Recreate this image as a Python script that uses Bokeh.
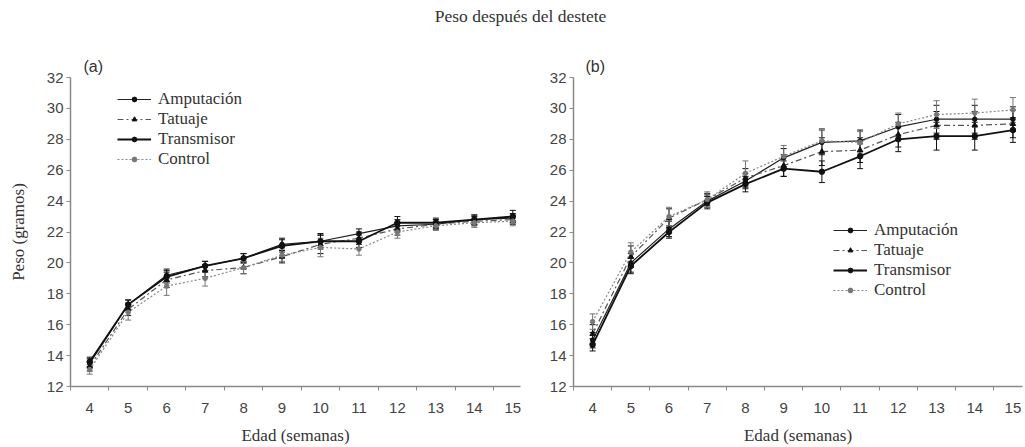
from bokeh.plotting import figure
from bokeh.models import (FixedTicker, Label, Legend, LegendItem, Whisker, TeeHead,
                          ColumnDataSource, Range1d)
from bokeh.layouts import column, row
from bokeh.embed import file_html
from bokeh.resources import INLINE

# ---- data ----
weeks = [4, 5, 6, 7, 8, 9, 10, 11, 12, 13, 14, 15]
series_names = ["Amputación", "Tatuaje", "Transmisor", "Control"]

a_amput = [13.5, 17.3, 19.2, 19.8, 20.3, 21.2, 21.4, 21.9, 22.4, 22.5, 22.8, 22.9]
a_tat = [13.3, 17.0, 18.9, 19.5, 19.7, 20.4, 21.2, 21.6, 22.2, 22.5, 22.7, 22.8]
a_trans = [13.6, 17.3, 19.1, 19.8, 20.3, 21.1, 21.4, 21.4, 22.6, 22.6, 22.8, 23.0]
a_ctrl = [13.1, 16.8, 18.5, 19.0, 19.7, 20.5, 21.0, 20.9, 22.0, 22.4, 22.6, 22.7]
a_err_amput = [0.3, 0.3, 0.4, 0.3, 0.3, 0.4, 0.4, 0.3, 0.4, 0.3, 0.3, 0.3]
a_err_tat = [0.3, 0.4, 0.5, 0.4, 0.4, 0.4, 0.6, 0.4, 0.4, 0.3, 0.3, 0.3]
a_err_trans = [0.3, 0.3, 0.4, 0.3, 0.3, 0.4, 0.5, 0.4, 0.4, 0.3, 0.3, 0.4]
a_err_ctrl = [0.3, 0.5, 0.6, 0.5, 0.4, 0.4, 0.6, 0.4, 0.4, 0.3, 0.3, 0.3]

b_amput = [15.0, 20.0, 22.2, 24.0, 25.3, 26.8, 27.8, 27.9, 28.8, 29.3, 29.3, 29.3]
b_tat = [15.4, 20.4, 22.9, 24.1, 25.5, 26.3, 27.2, 27.3, 28.3, 28.9, 28.9, 29.0]
b_trans = [14.7, 19.8, 22.0, 23.9, 25.1, 26.1, 25.9, 26.9, 28.0, 28.2, 28.2, 28.6]
b_ctrl = [16.2, 20.7, 23.0, 24.1, 25.8, 26.9, 27.9, 27.8, 29.0, 29.6, 29.7, 29.9]
b_err_amput = [0.5, 0.6, 0.5, 0.4, 0.5, 0.6, 0.8, 0.7, 0.8, 0.9, 0.9, 0.8]
b_err_tat = [0.6, 0.7, 0.6, 0.4, 0.6, 0.7, 0.9, 0.8, 0.8, 0.9, 0.9, 0.9]
b_err_trans = [0.4, 0.5, 0.4, 0.4, 0.5, 0.5, 0.7, 0.8, 0.8, 0.9, 0.9, 0.8]
b_err_ctrl = [0.5, 0.6, 0.6, 0.5, 0.8, 0.7, 0.8, 0.7, 0.7, 0.9, 0.9, 0.8]

y_ticks = [12, 14, 16, 18, 20, 22, 24, 26, 28, 30, 32]

title_text = "Peso después del destete"
y_label = "Peso (gramos)"
x_label = "Edad (semanas)"

# ---- styles ----
styles = [
    dict(line_color="#222222", line_width=1.2, line_dash="solid", marker="circle", size=4.5, mcolor="#111111"),
    dict(line_color="#555555", line_width=1.2, line_dash="6 3 2 3", marker="triangle", size=5.5, mcolor="#111111"),
    dict(line_color="#111111", line_width=1.8, line_dash="solid", marker="circle", size=5.5, mcolor="#111111"),
    dict(line_color="#888888", line_width=1.2, line_dash="2 2", marker="circle", size=4.5, mcolor="#777777"),
]

SERIF = "Liberation Serif"
SANS = "Liberation Sans"
AXIS_COLOR = "#8a8a8a"


def make_panel(width, min_left, min_right, xr_end, data, errs, tag, tag_offset, legend_loc, show_ylabel):
    p = figure(width=width, height=417, x_range=Range1d(3.5, xr_end), y_range=Range1d(12, 32),
               toolbar_location=None, output_backend="svg",
               min_border_left=min_left, min_border_right=min_right,
               min_border_top=47, min_border_bottom=61)
    p.outline_line_color = None
    p.xgrid.visible = False
    p.ygrid.visible = False
    p.background_fill_color = "white"
    p.border_fill_color = "white"

    p.title.text = tag
    p.title.align = "left"
    p.title.offset = tag_offset
    p.title.standoff = 6
    p.title.text_font = SANS
    p.title.text_font_size = "16px"
    p.title.text_font_style = "normal"
    p.title.text_color = "#333333"

    xa = p.xaxis[0]
    xa.ticker = FixedTicker(ticks=weeks, minor_ticks=[w - 0.5 for w in weeks] + [15.5])
    xa.major_tick_out = 0
    xa.major_tick_in = 0
    xa.minor_tick_out = 4
    xa.minor_tick_in = 0
    xa.minor_tick_line_color = AXIS_COLOR
    xa.axis_line_color = AXIS_COLOR
    xa.axis_line_width = 1.5
    xa.major_label_text_font = SANS
    xa.major_label_text_font_size = "15px"
    xa.major_label_text_color = "#444444"
    xa.major_label_standoff = 12
    xa.axis_label = x_label
    xa.axis_label_text_font = SERIF
    xa.axis_label_text_font_size = "17px"
    xa.axis_label_text_font_style = "normal"
    xa.axis_label_text_color = "#333333"
    xa.axis_label_standoff = 10

    ya = p.yaxis[0]
    ya.ticker = FixedTicker(ticks=y_ticks)
    ya.major_tick_out = 4
    ya.major_tick_in = 0
    ya.minor_tick_out = 0
    ya.minor_tick_in = 0
    ya.major_tick_line_color = AXIS_COLOR
    ya.axis_line_color = AXIS_COLOR
    ya.axis_line_width = 1.5
    ya.major_label_text_font = SANS
    ya.major_label_text_font_size = "15px"
    ya.major_label_text_color = "#444444"
    ya.major_label_standoff = 3
    if show_ylabel:
        ya.axis_label = y_label
        ya.axis_label_text_font = SERIF
        ya.axis_label_text_font_size = "17px"
        ya.axis_label_text_font_style = "normal"
        ya.axis_label_text_color = "#333333"
        ya.axis_label_standoff = 16

    items = []
    for name, vals, err, st in zip(series_names, data, errs, styles):
        src = ColumnDataSource(dict(x=weeks, y=vals,
                                    u=[v + e for v, e in zip(vals, err)],
                                    l=[v - e for v, e in zip(vals, err)]))
        wk = Whisker(base="x", upper="u", lower="l", source=src,
                     line_color=st["mcolor"], line_width=1,
                     upper_head=TeeHead(size=6, line_color=st["mcolor"], line_width=1),
                     lower_head=TeeHead(size=6, line_color=st["mcolor"], line_width=1))
        p.add_layout(wk)
        lr = p.line("x", "y", source=src, line_color=st["line_color"], line_width=st["line_width"],
                    line_dash=st["line_dash"])
        mr = p.scatter("x", "y", source=src, marker=st["marker"], size=st["size"],
                       fill_color=st["mcolor"], line_color=st["mcolor"])
        items.append(LegendItem(label=name, renderers=[lr, mr]))

    leg = Legend(items=items, location=legend_loc, orientation="vertical",
                 glyph_width=34, glyph_height=12, label_height=20, spacing=0,
                 label_standoff=7, padding=0, margin=0,
                 border_line_color=None, background_fill_alpha=0,
                 label_text_font=SERIF, label_text_font_size="17px",
                 label_text_color="#333333")
    p.add_layout(leg, "center")
    return p


pa = make_panel(525, 70, 5, 15.2,
                [a_amput, a_tat, a_trans, a_ctrl],
                [a_err_amput, a_err_tat, a_err_trans, a_err_ctrl],
                "(a)", 13, (47, 217), True)
pb = make_panel(500, 48, 3, 15.25,
                [b_amput, b_tat, b_trans, b_ctrl],
                [b_err_amput, b_err_tat, b_err_trans, b_err_ctrl],
                "(b)", 12, (260, 86), False)

pt = figure(width=1025, height=30, x_range=Range1d(0, 1025), y_range=Range1d(0, 30),
            toolbar_location=None, output_backend="svg", min_border=0)
pt.axis.visible = False
pt.grid.visible = False
pt.outline_line_color = None
pt.add_layout(Label(x=520, y=15, text=title_text, text_font=SERIF, text_font_size="17.5px",
                    text_color="#333333", text_align="center", text_baseline="middle"))

layout = column(pt, row(pa, pb, spacing=0), spacing=0)

open("out.html", "w").write(file_html(layout, INLINE))
